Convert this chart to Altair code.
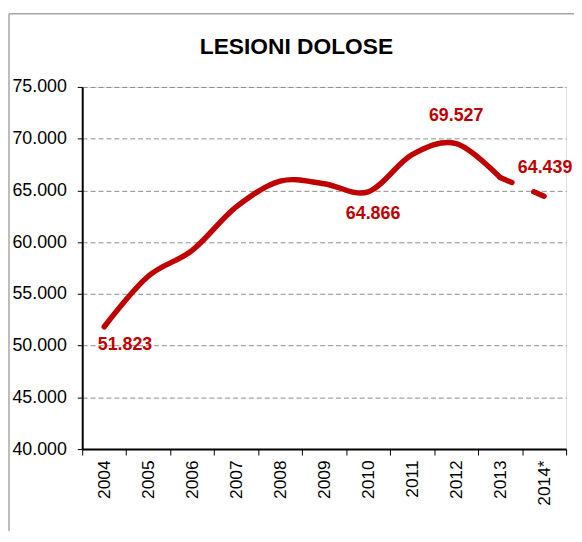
import altair as alt
import pandas as pd

# ---- data ----
years = ["2004", "2005", "2006", "2007", "2008", "2009", "2010", "2011", "2012", "2013", "2014*"]
values = [51823, 56700, 59200, 63400, 65900, 65650, 64866, 68450, 69527, 66250, 64439]
labelled_years = ["2004", "2010", "2012", "2014*"]
label_texts = ["51.823", "64.866", "69.527", "64.439"]
y_ticks = [40000, 45000, 50000, 55000, 60000, 65000, 70000, 75000]

RED = "#c00000"
FONT = "Liberation Sans"

df = pd.DataFrame({"year": years, "value": values})
solid_df = df.iloc[:-1]
dash_df = df.iloc[-2:]
lab_df = pd.DataFrame({"year": labelled_years, "txt": label_texts})

x_enc = alt.X(
    "year:N",
    sort=years,
    bandPosition=0.5,
    scale=alt.Scale(type="band", paddingInner=0, paddingOuter=0, domain=years),
    axis=alt.Axis(
        title=None,
        labelAngle=-90,
        labelAlign="right",
        labelBaseline="middle",
        labelFontSize=17.5,
        labelFont=FONT,
        labelColor="black",
        labelPadding=5,
        tickBand="extent",
        tickColor="black",
        tickSize=6,
        tickWidth=1,
        domainColor="black",
        domainWidth=2,
        grid=False,
    ),
)
y_scale = alt.Scale(domain=[40000, 75000], nice=False, zero=False)
y_enc = alt.Y(
    "value:Q",
    scale=y_scale,
    axis=alt.Axis(
        title=None,
        values=y_ticks,
        labelExpr="replace(format(datum.value, ',.0f'), ',', '.')",
        labelFontSize=18,
        labelFont=FONT,
        labelColor="black",
        labelPadding=11,
        tickColor="black",
        tickSize=5,
        tickWidth=1,
        domainColor="black",
        domainWidth=2,
        grid=True,
        gridDash=[5, 3],
        gridColor="#8c8c8c",
        gridWidth=1,
    ),
)

solid = alt.Chart(solid_df).mark_line(
    color=RED, strokeWidth=5.5, interpolate="cardinal", strokeCap="round"
).encode(x=x_enc, y=y_enc)

dashed = alt.Chart(dash_df).mark_line(
    color=RED, strokeWidth=5.5, strokeDash=[13, 24], strokeCap="round"
).encode(x=alt.X("year:N", sort=years, bandPosition=0.5), y=alt.Y("value:Q"))

offsets = {"2004": (21, 18), "2010": (5, 22), "2012": (0, -28), "2014*": (1, -28)}
text_layers = []
for yr, (dx, dy) in offsets.items():
    t = alt.Chart(df.merge(lab_df, on="year")).transform_filter(
        alt.datum.year == yr
    ).mark_text(
        color=RED, fontSize=18, fontWeight="bold", font=FONT,
        dx=dx, dy=dy, align="center", baseline="middle"
    ).encode(x=alt.X("year:N", sort=years, bandPosition=0.5), y=alt.Y("value:Q"), text="txt:N")
    text_layers.append(t)

frame_df = pd.DataFrame({"a": [0]})
frame_left = alt.Chart(frame_df).mark_rule(color="#a6a6a6", strokeWidth=1.5).encode(
    x=alt.value(-74), y=alt.value(-74), y2=alt.value(450)
)
frame_top = alt.Chart(frame_df).mark_rule(color="#a6a6a6", strokeWidth=1.5).encode(
    x=alt.value(-74), x2=alt.value(500), y=alt.value(-74)
)

chart = alt.layer(frame_left, frame_top, solid, dashed, *text_layers).properties(
    width=489,
    height=366,
    title=alt.TitleParams(
        "LESIONI DOLOSE", fontSize=23, fontWeight="bold", font=FONT, color="black",
        anchor="middle", frame="group", dx=-28, offset=-64, baseline="alphabetic",
    ),
    autosize=alt.AutoSizeParams(type="none"),
    padding={"left": 75, "top": 77, "right": 8, "bottom": 80},
).configure_view(stroke=None).configure(background="white")

chart.save("out.html", embed_options={"renderer": "svg", "actions": False})
